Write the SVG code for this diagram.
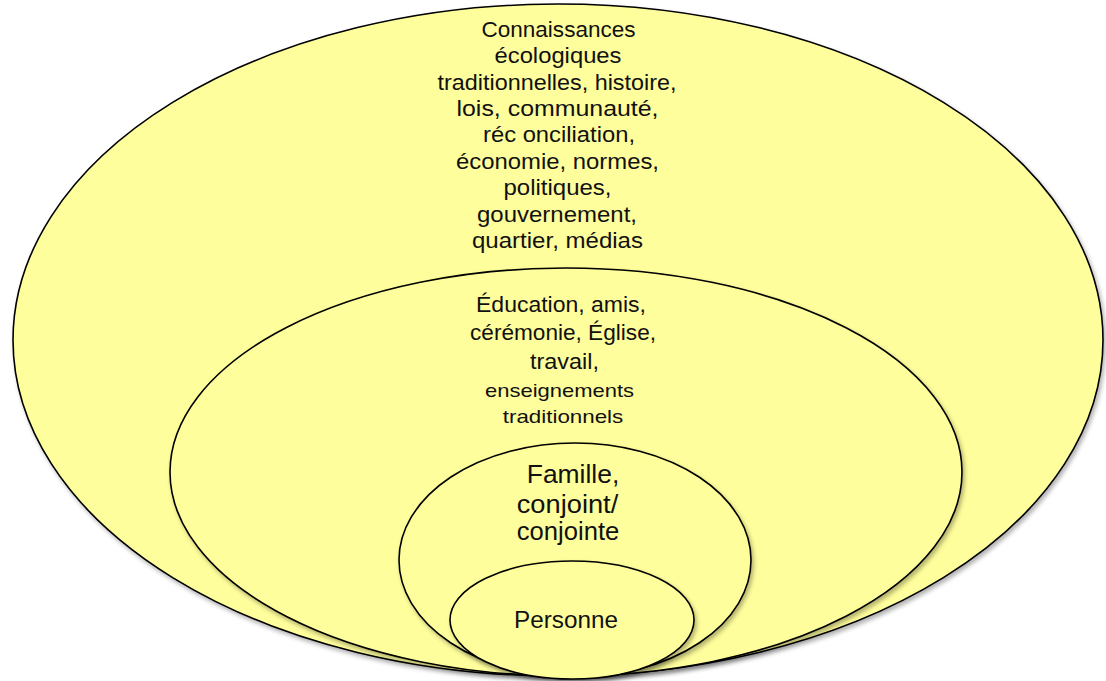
<svg xmlns="http://www.w3.org/2000/svg" width="1106" height="681" viewBox="0 0 1106 681">
<style>
.e{fill:#FFFE9C;stroke:#000;stroke-width:1.6;filter:url(#sh)}
text{font-family:"Liberation Sans",Arial,sans-serif;fill:#111;text-anchor:middle}
.t1{font-size:22.5px}
.t2{font-size:21.5px}
.t4{font-size:18.5px}
.t3{font-size:25.5px}
.t5{font-size:24.5px}
</style>
<defs>
<filter id="sh" x="-5%" y="-5%" width="110%" height="112%">
<feDropShadow dx="2" dy="3" stdDeviation="2" flood-color="#000" flood-opacity="0.3"/>
</filter>
</defs>
<rect width="1106" height="681" fill="#fff"/>
<g id="outer">
<ellipse class="e" cx="558" cy="340" rx="545" ry="336"/>
<text class="t1" x="558.5" y="37" textLength="154" lengthAdjust="spacingAndGlyphs">Connaissances</text>
<text class="t1" x="558" y="63" textLength="127" lengthAdjust="spacingAndGlyphs">écologiques</text>
<text class="t1" x="557" y="89.5" textLength="239" lengthAdjust="spacingAndGlyphs">traditionnelles, histoire,</text>
<text class="t1" x="557.5" y="116" textLength="202" lengthAdjust="spacingAndGlyphs">lois, communauté,</text>
<text class="t1" x="559" y="142" textLength="152" lengthAdjust="spacingAndGlyphs">réc onciliation,</text>
<text class="t1" x="557.5" y="168.5" textLength="203" lengthAdjust="spacingAndGlyphs">économie, normes,</text>
<text class="t1" x="557.5" y="195" textLength="108" lengthAdjust="spacingAndGlyphs">politiques,</text>
<text class="t1" x="557" y="221.5" textLength="160" lengthAdjust="spacingAndGlyphs">gouvernement,</text>
<text class="t1" x="557.5" y="248" textLength="171" lengthAdjust="spacingAndGlyphs">quartier, médias</text>
</g>
<g id="middle">
<ellipse class="e" cx="566" cy="472" rx="396" ry="204"/>
<text class="t2" x="561" y="312" textLength="170" lengthAdjust="spacingAndGlyphs">Éducation, amis,</text>
<text class="t2" x="563" y="339.5" textLength="186" lengthAdjust="spacingAndGlyphs">cérémonie, Église,</text>
<text class="t2" x="564.5" y="369" textLength="69" lengthAdjust="spacingAndGlyphs">travail,</text>
<text class="t4" x="559.5" y="396.5" textLength="149" lengthAdjust="spacingAndGlyphs">enseignements</text>
<text class="t4" x="563" y="423" textLength="120.5" lengthAdjust="spacingAndGlyphs">traditionnels</text>
</g>
<g id="famille">
<ellipse class="e" cx="575" cy="560" rx="176" ry="117"/>
<text class="t3" x="573" y="483" textLength="92.5" lengthAdjust="spacingAndGlyphs">Famille,</text>
<text class="t3" x="567.5" y="513" textLength="101.5" lengthAdjust="spacingAndGlyphs">conjoint/</text>
<text class="t3" x="568" y="540" textLength="102.5" lengthAdjust="spacingAndGlyphs">conjointe</text>
</g>
<g id="personne">
<ellipse class="e" cx="572" cy="620" rx="122" ry="59"/>
<text class="t5" x="566" y="628" textLength="104" lengthAdjust="spacingAndGlyphs">Personne</text>
</g>
<g id="connectors"/>
</svg>
